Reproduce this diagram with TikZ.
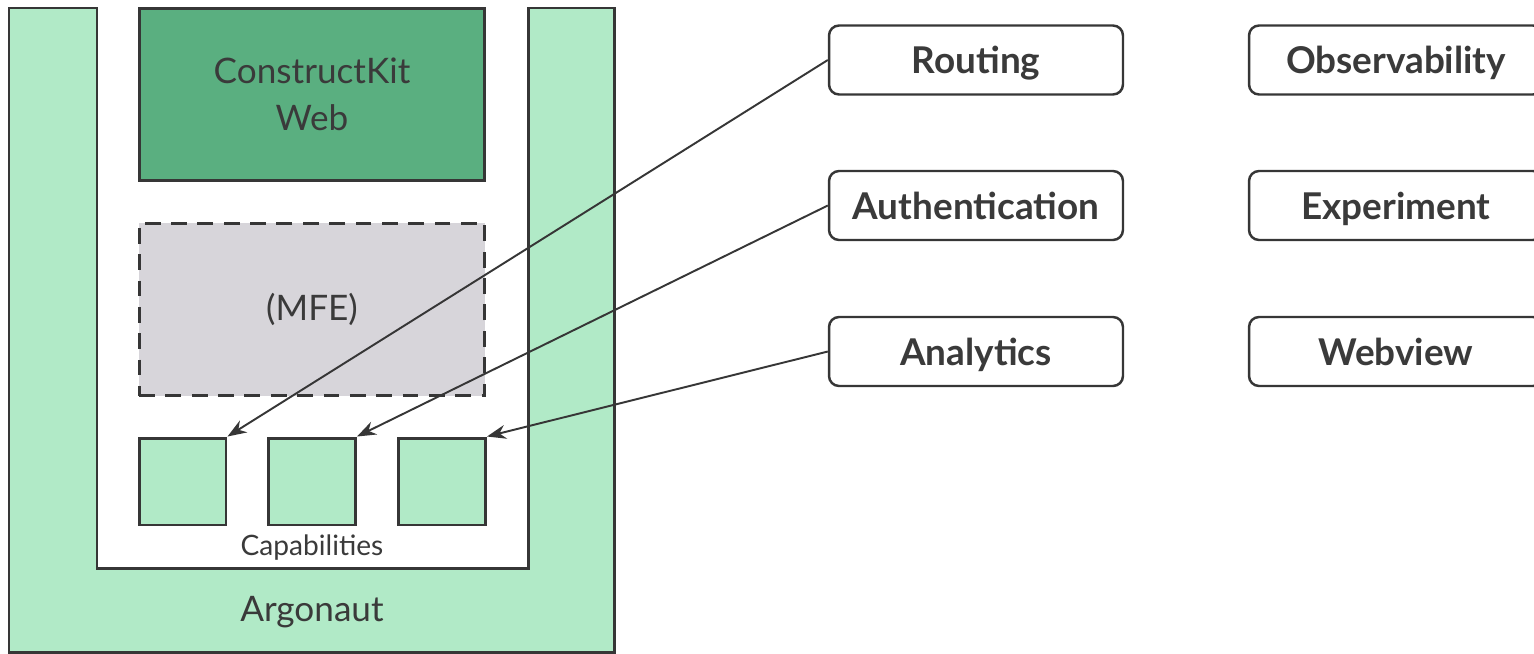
\documentclass[tikz,border=0pt]{standalone}
\usepackage{fontspec}
\setmainfont{Lato}
\usetikzlibrary{arrows.meta,positioning}
\definecolor{argolight}{HTML}{B1EAC7}
\definecolor{kitgreen}{HTML}{5AAF80}
\definecolor{mfegray}{HTML}{D7D5DA}
\definecolor{linegray}{HTML}{363636}
\definecolor{textgray}{HTML}{3A3A3A}
\begin{document}
\begin{tikzpicture}[x=0.02cm, y=-0.02cm, text=textgray,
  block/.style={draw=linegray, line width=1.7pt, minimum width=6.92cm, minimum height=3.46cm, align=center, font=\fontsize{20}{26.5}\selectfont},
  capbox/.style={draw=linegray, line width=1.7pt, fill=argolight, minimum width=1.74cm, minimum height=1.74cm},
  feature/.style={draw=linegray, line width=1.4pt, rounded corners=0.2cm, fill=white, minimum width=5.88cm, minimum height=1.38cm, text height=0.54cm, text depth=0cm, font=\fontsize{21}{24}\selectfont\bfseries},
  link/.style={draw=linegray, line width=1.1pt, -{Stealth[length=0.38cm, width=0.28cm]}}]
\useasboundingbox (0,0) rectangle (1534,653);
\draw[fill=argolight, draw=linegray, line width=1.7pt] (9,652) -- (9,8) -- (97,8) -- (97,568) -- (528,568) -- (528,8) -- (614,8) -- (614,652) -- cycle;
\node[block, fill=kitgreen] (kit) at (312,94.5) {ConstructKit\\Web};
\node[block, fill=mfegray, dashed, dash pattern=on 9pt off 6pt] (mfe) at (312,309.5) {(MFE)};
\node[capbox] (cap1) at (182.5,481.5) {};
\node[capbox] (cap2) at (312,481.5) {};
\node[capbox] (cap3) at (442,481.5) {};
\node[font=\fontsize{16}{18}\selectfont] (caplabel) at (312,548) {Capabilities};
\node[font=\fontsize{20}{24}\selectfont] (argo) at (312,612) {Argonaut};
\node[feature] (routing) at (976,60) {Routing};
\node[feature] (auth) at (976,205.5) {Authentication};
\node[feature] (analytics) at (976,351.5) {Analytics};
\node[feature] (observ) at (1396,60) {Observability};
\node[feature] (experiment) at (1396,205.5) {Experiment};
\node[feature] (webview) at (1396,351.5) {Webview};
\draw[link] (routing.west) -- (cap1.north east);
\draw[link] (auth.west) -- (cap2.north east);
\draw[link] (analytics.west) -- (cap3.north east);
\end{tikzpicture}
\end{document}
